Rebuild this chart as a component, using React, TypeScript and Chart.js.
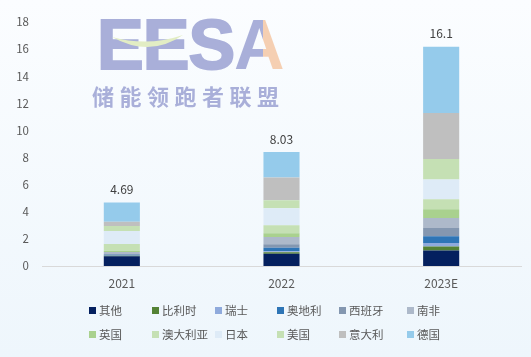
import React, { useEffect, useRef } from "react";
import { Chart, registerables } from "chart.js";

Chart.register(...registerables);

const categories = ["2021", "2022", "2023E"];
const totalLabels = ["4.69", "8.03", "16.1"];
const yTicks = [0, 2, 4, 6, 8, 10, 12, 14, 16, 18];

const seriesNames = ["其他", "比利时", "瑞士", "奥地利", "西班牙", "南非", "英国", "澳大利亚", "日本", "美国", "意大利", "德国"];
const qita = [0.72, 0.91, 1.14];
const bilishi = [0.03, 0.1, 0.3];
const ruishi = [0.03, 0.07, 0.25];
const aodili = [0.05, 0.27, 0.5];
const xibanya = [0.05, 0.25, 0.62];
const nanfei = [0.15, 0.54, 0.74];
const yingguo = [0.1, 0.27, 0.64];
const aodaliya = [0.5, 0.59, 0.74];
const riben = [0.95, 1.26, 1.46];
const meiguo = [0.37, 0.59, 1.51];
const yidali = [0.32, 1.68, 3.39];
const deguo = [1.42, 1.88, 4.88];
const seriesValues = [qita, bilishi, ruishi, aodili, xibanya, nanfei, yingguo, aodaliya, riben, meiguo, yidali, deguo];
const seriesColors = ["#04205F", "#548235", "#8FAADC", "#2E75B6", "#8497B0", "#ADB9CA", "#A9D18E", "#C5E0B4", "#DEEBF7", "#C5E0B4", "#BFBFBF", "#95CBEB"];

const FONT = "'Noto Sans CJK SC', 'Noto Sans', sans-serif";
const legendCols = [89, 152, 215, 277, 339, 407];
const legendRows = [310, 334];

const totalsPlugin = {
  id: "totals",
  afterDatasetsDraw(chart: any) {
    const ctx = chart.ctx;
    const last = chart.getDatasetMeta(chart.data.datasets.length - 1);
    ctx.save();
    ctx.font = `12px ${FONT}`;
    ctx.fillStyle = "#404040";
    ctx.textAlign = "center";
    ctx.textBaseline = "middle";
    last.data.forEach((el: any, i: number) => {
      ctx.fillText(totalLabels[i], el.x, el.y - 13);
    });
    ctx.restore();
  },
};

export default function App() {
  const ref = useRef<HTMLCanvasElement>(null);
  useEffect(() => {
    const chart = new Chart(ref.current!, {
      type: "bar",
      data: {
        labels: categories,
        datasets: seriesNames.map((n, i) => ({
          label: n,
          data: seriesValues[i],
          backgroundColor: seriesColors[i],
          borderWidth: 0,
          barPercentage: 0.226,
          categoryPercentage: 1,
        })),
      },
      options: {
        animation: false,
        responsive: false,
        maintainAspectRatio: false,
        layout: { padding: { left: 0, right: 10, top: 22, bottom: 0 } },
        plugins: { legend: { display: false }, tooltip: { enabled: false } },
        scales: {
          x: {
            stacked: true,
            grid: { display: false, drawTicks: false },
            border: { display: true, color: "#D9D9D9", width: 1 },
            ticks: { color: "#595959", font: { family: FONT, size: 12 }, padding: 10 },
            afterFit: (s: any) => { s.height = 91; },
          },
          y: {
            stacked: true,
            min: 0,
            max: 18,
            grid: { display: false, drawTicks: false },
            border: { display: false },
            afterBuildTicks: (s: any) => { s.ticks = yTicks.map((v) => ({ value: v })); },
            ticks: { color: "#595959", font: { family: FONT, size: 11.5 }, padding: 13 },
            afterFit: (s: any) => { s.width = 42; },
          },
        },
      },
      plugins: [totalsPlugin],
    });
    return () => chart.destroy();
  }, []);

  return (
    <div style={{ position: "fixed", left: 0, top: 0, width: 531, height: 357, background: "linear-gradient(180deg, #FBFDFF 0%, #EEF6FC 100%)", overflow: "hidden" }}>
      <canvas ref={ref} width={531} height={357} style={{ position: "absolute", left: 0, top: 0 }} />
      <div style={{ position: "absolute", left: 97, top: 6, fontFamily: "'Liberation Sans', Arial, sans-serif", fontWeight: 700, fontSize: 70, lineHeight: "78px", color: "#A9AFD9", WebkitTextStroke: "2px #A9AFD9", letterSpacing: -1, pointerEvents: "none" }}>
        EES
        <span style={{ background: "linear-gradient(90deg, #A9AFD9 58%, #F5CFB2 58%)", WebkitBackgroundClip: "text", backgroundClip: "text", color: "transparent", WebkitTextStroke: "0px transparent" }}>A</span>
      </div>
      <svg width={531} height={120} style={{ position: "absolute", left: 0, top: 0, pointerEvents: "none" }}>
        <path d="M112 37 Q148 47 183 35 Q150 58 112 37 Z" fill="#E2EDC4" />
      </svg>
      <div style={{ position: "absolute", left: 92, top: 80, fontFamily: FONT, fontWeight: 700, fontSize: 22, lineHeight: "30px", color: "#A9AFD9", letterSpacing: 5.5, pointerEvents: "none" }}>
        储能领跑者联盟
      </div>
      {seriesNames.map((n, i) => {
        const col = i % 6;
        const row = Math.floor(i / 6);
        return (
          <div key={n} style={{ position: "absolute", left: legendCols[col], top: legendRows[row] - 8, height: 16, display: "flex", alignItems: "center", fontFamily: FONT, fontSize: 11.5, color: "#595959", whiteSpace: "nowrap" }}>
            <span style={{ display: "inline-block", width: 7, height: 7, background: seriesColors[i], marginRight: 3 }} />
            {n}
          </div>
        );
      })}
    </div>
  );
}
